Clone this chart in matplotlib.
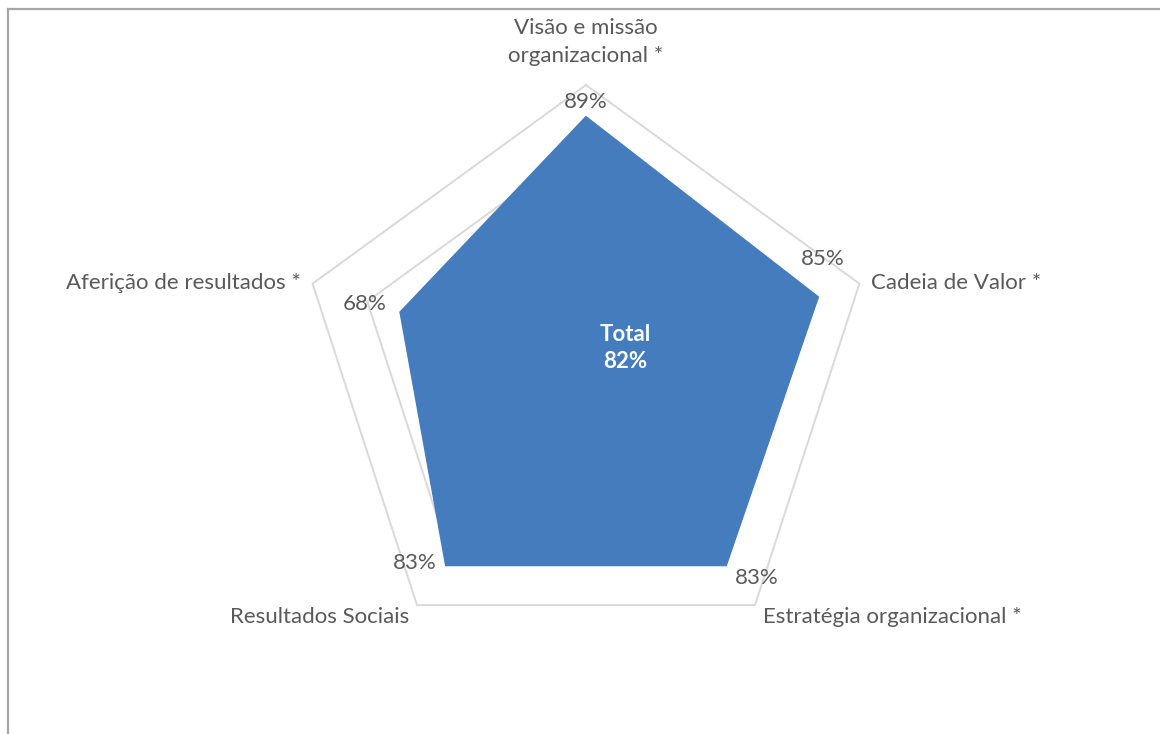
import numpy as np
import matplotlib
matplotlib.use("Agg")
import matplotlib.pyplot as plt
from matplotlib.lines import Line2D

categories = ["Visão e missão\norganizacional *", "Cadeia de Valor *",
              "Estratégia organizacional *", "Resultados Sociais",
              "Aferição de resultados *"]
scores = [0.89, 0.85, 0.83, 0.83, 0.68]
total_label = "Total\n82%"
grid_levels = [0.2, 0.4, 0.6, 0.8, 1.0]

BLUE = "#447CBD"
GRID = "#D9D9D9"
TEXT = "#595959"
FONT = ["Lato", "DejaVu Sans"]
FS = 16


def main():
    fig = plt.figure(figsize=(11.6, 7.34), dpi=100)
    ax = fig.add_axes([0.2573, 0.1008, 0.4957, 0.7834], projection="polar")
    ax.set_theta_offset(np.pi / 2)
    ax.set_theta_direction(-1)
    ax.set_ylim(0, 1)
    ax.axis("off")

    n = len(categories)
    theta = np.linspace(0, 2 * np.pi, n, endpoint=False)
    closed = np.append(theta, theta[0])

    # pentagon gridlines
    for lvl in grid_levels:
        ax.plot(closed, [lvl] * (n + 1), color=GRID, lw=1.4, zorder=1, clip_on=False)

    vals = np.append(scores, scores[0])
    ax.fill(closed, vals, color=BLUE, zorder=2)

    # value labels
    val_offsets = [(0, 15), (4, 38), (31, -12), (-31, 3), (-35, 8)]
    for t, v, off in zip(theta, scores, val_offsets):
        ax.annotate(f"{v:.0%}", xy=(t, v), xytext=off, textcoords="offset pixels",
                    ha="center", va="center", color=TEXT, fontsize=FS,
                    family=FONT, zorder=3)

    # category labels
    cat_pos = [((0, 43), "center"), ((12, 1), "left"), ((8, -12), "left"),
               ((-8, -12), "right"), ((-12, 1), "right")]
    for t, name, (off, ha) in zip(theta, categories, cat_pos):
        ax.annotate(name, xy=(t, 1.0), xytext=off, textcoords="offset pixels",
                    ha=ha, va="center", color=TEXT, fontsize=FS,
                    family=FONT, linespacing=1.5, annotation_clip=False)

    fig.text(0.5388, 0.5259, total_label, ha="center", va="center", color="white",
             fontsize=FS, fontweight="bold", family=FONT, linespacing=1.35)

    # frame edges
    fig.add_artist(Line2D([7.5 / 1160, 1], [1 - 8.5 / 734] * 2, color="#A6A6A6", lw=1.6))
    fig.add_artist(Line2D([7.5 / 1160] * 2, [0, 1 - 8.5 / 734], color="#A6A6A6", lw=1.6))

    fig.savefig("out.png", dpi=100)


if __name__ == "__main__":
    main()
